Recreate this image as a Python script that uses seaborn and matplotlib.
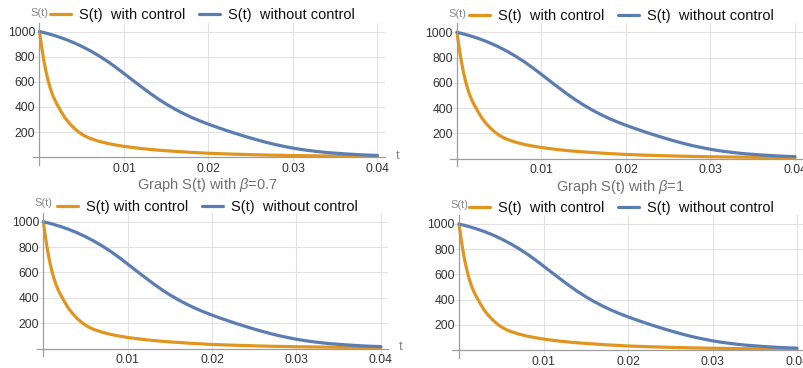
import numpy as np
import pandas as pd
import seaborn as sns
import matplotlib.pyplot as plt
from matplotlib.ticker import FixedLocator, MultipleLocator

# values (all four panels show the same curves)
t_control = [0, 0.00025, 0.0005, 0.00075, 0.001, 0.00125, 0.0015, 0.00175, 0.002, 0.0025,
             0.003, 0.0035, 0.004, 0.0045, 0.005, 0.0055, 0.006, 0.007, 0.008, 0.009,
             0.01, 0.011, 0.012, 0.0135, 0.015, 0.0175, 0.02, 0.0225, 0.025, 0.0275,
             0.03, 0.035, 0.04]
s_control = [1000, 880, 775, 688, 615, 555, 505, 465, 430, 370,
             315, 273, 238, 208, 184, 165, 150, 128, 111, 98,
             87, 78, 70, 60, 52, 41, 32, 26, 21, 17,
             14, 9.5, 6.5]

t_free = [0, 0.001, 0.002, 0.003, 0.004, 0.005, 0.006, 0.007, 0.008, 0.009, 0.01,
          0.011, 0.012, 0.013, 0.014, 0.015, 0.016, 0.017, 0.018, 0.019, 0.02,
          0.021, 0.022, 0.023, 0.024, 0.025, 0.026, 0.027, 0.028, 0.029, 0.03,
          0.031, 0.032, 0.033, 0.034, 0.035, 0.036, 0.037, 0.038, 0.039, 0.04]
s_free = [1000, 983, 963, 940, 913, 882, 847, 808, 765, 717, 666,
          614, 563, 513, 466, 423, 384, 349, 317, 289, 263,
          239, 216, 194, 173, 153, 134, 116, 100, 86, 73,
          62, 53, 45, 38, 33, 28, 24, 20, 17, 15]

x_ticks = [0.01, 0.02, 0.03, 0.04]
x_tick_labels = ["0.01", "0.02", "0.03", "0.04"]
y_ticks = [200, 400, 600, 800, 1000]

control_labels = ["S(t)  with control", "S(t)  with control", "S(t) with control", "S(t)  with control"]
free_label = "S(t)  without control"
titles = ["Graph S(t) with $\\beta$=0.7", "Graph S(t) with $\\beta$=1"]

ORANGE = "#E0951F"
BLUE = "#5B7DB1"
AXIS = "#9d9d9d"

sns.set_style("white")
plt.rcParams["font.family"] = ["Liberation Sans", "DejaVu Sans"]
plt.rcParams["mathtext.fontset"] = "custom"
plt.rcParams["mathtext.it"] = "Liberation Sans:italic"
plt.rcParams["mathtext.rm"] = "Liberation Sans"

W, H = 804, 368
fig = plt.figure(figsize=(W / 100, H / 100), dpi=100)

# panel placement in pixels: (x of t=0, y of S=0, px per unit t, px per unit S, legend x, legend y)
panels = [
    (39.5, 157.3, 8450, 0.1258, 50, 15),
    (457.0, 158.5, 8450, 0.1262, 469, 16),
    (43.3, 348.5, 8440, 0.1268, 57, 207),
    (459.0, 350.0, 8450, 0.1260, 469, 208),
]
xlim = (-0.0008, 0.0409)
ylim = (-60, 1070)

df = pd.concat([
    pd.DataFrame({"t": t_control, "S": s_control, "series": "control"}),
    pd.DataFrame({"t": t_free, "S": s_free, "series": "free"}),
])

for i, (x0, y0, kx, ky, lx, ly) in enumerate(panels):
    left = x0 + xlim[0] * kx
    right = x0 + xlim[1] * kx
    top = y0 - ylim[1] * ky
    bottom = y0 - ylim[0] * ky
    ax = fig.add_axes([left / W, 1 - bottom / H, (right - left) / W, (bottom - top) / H])

    sns.lineplot(data=df, x="t", y="S", hue="series", hue_order=["control", "free"],
                 palette=[ORANGE, BLUE], estimator=None, linewidth=2.3, ax=ax, legend=False)
    ax.set_xlim(xlim)
    ax.set_ylim(ylim)
    ax.set_xlabel("")
    ax.set_ylabel("")

    ax.xaxis.set_major_locator(FixedLocator(x_ticks))
    ax.set_xticklabels(x_tick_labels)
    ax.yaxis.set_major_locator(FixedLocator(y_ticks))
    ax.xaxis.set_minor_locator(MultipleLocator(0.002))
    ax.yaxis.set_minor_locator(MultipleLocator(50))
    ax.grid(True, which="major", color="#e2e2e2", linewidth=0.8)
    ax.set_axisbelow(True)

    for side in ["top", "right"]:
        ax.spines[side].set_visible(False)
    for side in ["left", "bottom"]:
        ax.spines[side].set_position(("data", 0))
        ax.spines[side].set_color(AXIS)
        ax.spines[side].set_linewidth(0.9)
    ax.tick_params(which="major", direction="in", length=4, width=0.8, color=AXIS,
                   labelsize=8.7, labelcolor="#333333", pad=3)
    ax.tick_params(axis="x", which="major", pad=4)
    ax.tick_params(which="minor", direction="in", length=2, width=0.6, color=AXIS)

    ax.annotate("t", xy=(1.0, 0), xycoords=("axes fraction", "data"), xytext=(9, 1),
                textcoords="offset points", ha="center", va="center", fontsize=9.5, color="#888888",
                annotation_clip=False)
    ax.annotate("S(t)", xy=(0, 1.0), xycoords=("data", "axes fraction"), xytext=(0, 7),
                textcoords="offset points", ha="center", va="center", fontsize=8, color="#888888",
                annotation_clip=False)

    handles = [plt.Line2D([], [], color=ORANGE, lw=2.3), plt.Line2D([], [], color=BLUE, lw=2.3)]
    ax.legend(handles, [control_labels[i], free_label], ncol=2, frameon=False,
              loc="center left", bbox_to_anchor=(lx / W, 1 - ly / H), bbox_transform=fig.transFigure,
              fontsize=10.5, handlelength=1.45, handletextpad=0.55, columnspacing=0.9,
              borderpad=0, borderaxespad=0, labelcolor="#111111")

fig.text(207 / W, 1 - 185 / H, titles[0], ha="center", va="center", fontsize=10.5, color="#707070")
fig.text(620 / W, 1 - 187 / H, titles[1], ha="center", va="center", fontsize=10.5, color="#707070")

fig.savefig("out.png", dpi=100)
